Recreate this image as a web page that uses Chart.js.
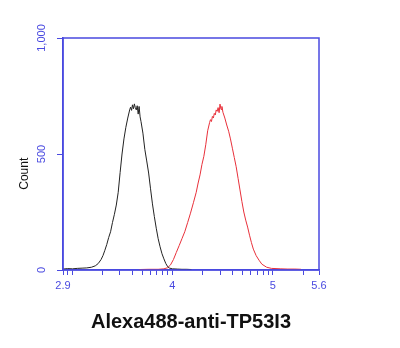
<!DOCTYPE html>
<html>
<head>
<meta charset="utf-8">
<script src="https://cdn.jsdelivr.net/npm/chart.js@4/dist/chart.umd.min.js"></script>
<style>
    html, body { margin: 0; padding: 0; background: #fff; }
    #wrap { width: 400px; height: 348px; }
</style>
</head>
<body>
<div id="wrap"><canvas id="chart"></canvas></div>
<script>
// log10 fluorescence and event counts
const blackX = [2.91, 2.957, 3.005, 3.052, 3.10, 3.147, 3.194, 3.232, 3.261, 3.289, 3.308, 3.327, 3.346, 3.365, 3.384, 3.403, 3.422, 3.441, 3.46, 3.479,
    3.498, 3.517, 3.536, 3.555, 3.574, 3.583, 3.593, 3.602, 3.612, 3.621, 3.63, 3.64, 3.649, 3.659, 3.668, 3.678, 3.687, 3.706, 3.725, 3.744,
    3.763, 3.782, 3.801, 3.82, 3.839, 3.858, 3.877, 3.896, 3.915, 3.934, 3.953, 3.972, 4.00, 4.048, 4.095, 4.142, 4.19];
const blackY = [4, 6, 5, 7, 8, 9, 12, 18, 28, 45, 62, 85, 110, 140, 165, 205, 240, 280, 335, 420,
    500, 565, 615, 655, 690, 702, 688, 712, 695, 716, 700, 690, 708, 672, 705, 660, 640, 590, 520, 470,
    418, 350, 285, 230, 180, 135, 100, 70, 48, 28, 14, 8, 5, 4, 3, 3, 2];

const redX = [3.668, 3.763, 3.858, 3.915, 3.953, 3.981, 4.01, 4.038, 4.067, 4.095, 4.123, 4.152, 4.18, 4.209, 4.237, 4.256, 4.275, 4.294, 4.313, 4.332,
    4.351, 4.37, 4.379, 4.389, 4.398, 4.408, 4.417, 4.427, 4.436, 4.446, 4.455, 4.465, 4.474, 4.484, 4.493, 4.503, 4.522, 4.541, 4.56, 4.578,
    4.597, 4.616, 4.635, 4.654, 4.673, 4.692, 4.711, 4.73, 4.749, 4.768, 4.787, 4.806, 4.834, 4.863, 4.891, 4.938, 4.986, 5.08, 5.15, 5.22, 5.28];
const redY = [2, 3, 3, 5, 10, 22, 45, 75, 105, 135, 165, 205, 245, 290, 335, 375, 410, 455, 490, 540,
    600, 635, 648, 640, 662, 655, 675, 668, 690, 684, 700, 678, 715, 692, 705, 680, 655, 625, 598, 565,
    525, 485, 445, 395, 345, 295, 250, 215, 185, 150, 118, 90, 62, 42, 25, 12, 7, 5, 4, 4, 3];

// labelled positions on the log axis (ends are labelled as in the figure)
const xTickValues = [2.91, 4, 5, 5.46];
const xTickLabels = ['2.9', '4', '5', '5.6'];
const yTicks = [0, 500, 1000];
const yTitle = 'Count';

const axisBlue = '#4a4ae0';

const toPoints = (xs, ys) => xs.map((x, i) => ({ x: x, y: ys[i] }));

// blue frame around the plot area + the y title, which sits a bit below the middle
const frame = {
    id: 'frame',
    afterDraw(chart) {
        const { ctx, chartArea: a } = chart;
        const y = chart.scales.y;
        ctx.save();
        ctx.strokeStyle = axisBlue;
        ctx.lineWidth = 1.5;
        ctx.strokeRect(a.left, a.top, a.right - a.left, a.bottom - a.top);

        ctx.translate(y.left + 25, y.getPixelForValue(415));
        ctx.rotate(-Math.PI / 2);
        ctx.fillStyle = '#111';
        ctx.font = '12px "Liberation Sans"';
        ctx.textAlign = 'center';
        ctx.textBaseline = 'middle';
        ctx.fillText(yTitle, 0, 0);
        ctx.restore();
    },
};

new Chart(document.getElementById('chart'), {
    type: 'scatter',
    data: {
        datasets: [
            {
                label: 'isotype',
                data: toPoints(blackX, blackY),
                showLine: true,
                borderColor: '#222222',
                borderWidth: 1,
                pointRadius: 0,
                tension: 0,
            },
            {
                label: 'Alexa488-anti-TP53I3',
                data: toPoints(redX, redY),
                showLine: true,
                borderColor: '#e8303a',
                borderWidth: 1,
                pointRadius: 0,
                tension: 0,
            },
        ],
    },
    options: {
        responsive: true,
        maintainAspectRatio: false,
        animation: false,
        layout: { padding: { left: 0, top: 38, right: 81, bottom: 0 } },
        plugins: { legend: { display: false }, tooltip: { enabled: false } },
        scales: {
            x: {
                type: 'linear',
                min: xTickValues[0],
                max: xTickValues[xTickValues.length - 1],
                afterFit: (scale) => { scale.height = 78; },
                afterBuildTicks: (scale) => {
                    // decade ticks like a log axis
                    const t = [{ value: scale.min }];
                    for (let n = 2; n <= 5; n++) {
                        for (let k = 1; k <= 9; k++) {
                            const v = n + Math.log10(k);
                            if (v > scale.min && v < scale.max) t.push({ value: v });
                        }
                    }
                    t.push({ value: scale.max });
                    scale.ticks = t;
                },
                ticks: {
                    autoSkip: false,
                    maxRotation: 0,
                    color: axisBlue,
                    font: { family: 'Liberation Sans', size: 11 },
                    padding: 4,
                    callback: (v) => {
                        const i = xTickValues.findIndex((t) => Math.abs(t - v) < 1e-6);
                        return i >= 0 ? xTickLabels[i] : '';
                    },
                },
                grid: { drawOnChartArea: false, color: axisBlue, tickLength: 5 },
                border: { color: axisBlue, width: 1.5 },
                title: {
                    display: true,
                    text: 'Alexa488-anti-TP53I3',
                    color: '#111',
                    font: { family: 'Liberation Sans', size: 20, weight: 'bold' },
                    padding: { top: 0, bottom: 14 },
                },
            },
            y: {
                min: 0,
                max: 1000,
                afterFit: (scale) => { scale.width = 63; },
                afterBuildTicks: (scale) => { scale.ticks = yTicks.map((v) => ({ value: v })); },
                ticks: {
                    color: axisBlue,
                    minRotation: 90,
                    maxRotation: 90,
                    crossAlign: 'center',
                    font: { family: 'Liberation Sans', size: 11 },
                    padding: 1,
                    callback: (v) => v.toLocaleString('en-US'),
                },
                grid: { drawOnChartArea: false, color: axisBlue, tickLength: 6 },
                border: { color: axisBlue, width: 1.5 },
            },
        },
    },
    plugins: [frame],
});
</script>
</body>
</html>
